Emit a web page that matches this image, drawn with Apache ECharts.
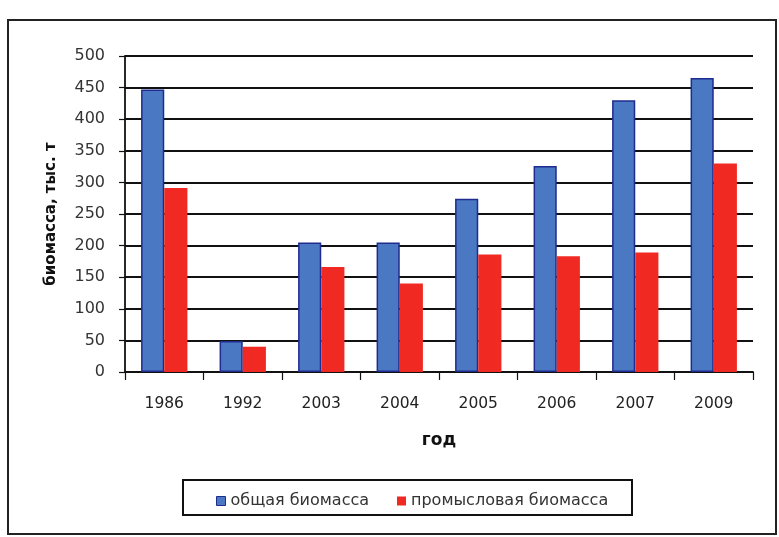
<!DOCTYPE html>
<html>
<head>
<meta charset="utf-8">
<script src="https://cdn.jsdelivr.net/npm/echarts@6/dist/echarts.min.js"></script>
<style>
  html, body { margin: 0; padding: 0; background: #fff; }
  #main { width: 779px; height: 537px; }
</style>
</head>
<body>
<div id="main"></div>
<script>
var years = ['1986', '1992', '2003', '2004', '2005', '2006', '2007', '2009'];
var totalBiomass = [447, 49, 205, 205, 274, 326, 430, 465];
var commercialBiomass = [291, 40, 166, 140, 186, 183, 189, 330];
var yTicks = [0, 50, 100, 150, 200, 250, 300, 350, 400, 450, 500];

var myChart = echarts.init(document.getElementById('main'));

var option = {
    backgroundColor: '#fff',
    animation: false,
    grid: {
        left: 125,
        right: 26,
        top: 56,
        bottom: 165
    },
    graphic: [
        {   // outer frame
            type: 'rect',
            shape: {x: 8, y: 20, width: 768, height: 514},
            style: {fill: 'none', stroke: '#222', lineWidth: 2},
            z: -1
        },
        {   // legend box
            type: 'rect',
            shape: {x: 183, y: 480, width: 449, height: 35},
            style: {fill: '#fff', stroke: '#111', lineWidth: 2},
            z: 0
        }
    ],
    legend: [
        {
            data: ['общая биомасса'],
            left: 211,
            top: 488,
            itemWidth: 9,
            itemHeight: 9,
            itemGap: 4,
            icon: 'rect',
            itemStyle: {borderColor: '#1f2b8f', borderWidth: 1},
            textStyle: {fontFamily: 'DejaVu Sans', fontSize: 16, color: '#333'},
            z: 5
        },
        {
            data: ['промысловая биомасса'],
            left: 392,
            top: 488,
            itemWidth: 9,
            itemHeight: 9,
            itemGap: 4,
            icon: 'rect',
            textStyle: {fontFamily: 'DejaVu Sans', fontSize: 16, color: '#333'},
            z: 5
        }
    ],
    xAxis: {
        type: 'category',
        data: years,
        name: 'год',
        nameLocation: 'middle',
        nameGap: 60,
        nameTextStyle: {fontFamily: 'DejaVu Sans', fontWeight: 'bold', fontSize: 17, color: '#111'},
        axisLine: {lineStyle: {color: '#111', width: 1.8}},
        axisTick: {show: true, length: 8, lineStyle: {color: '#111', width: 1.2}},
        axisLabel: {fontFamily: 'DejaVu Sans', fontSize: 15.5, color: '#222', margin: 24}
    },
    yAxis: {
        type: 'value',
        min: 0,
        max: 500,
        interval: 50,
        name: 'биомасса, тыс. т',
        nameLocation: 'middle',
        nameRotate: 90,
        nameGap: 66,
        nameTextStyle: {fontFamily: 'DejaVu Sans', fontWeight: 'bold', fontSize: 15, color: '#111'},
        axisLine: {show: true, lineStyle: {color: '#111', width: 1.8}},
        axisTick: {show: true, length: 6, lineStyle: {color: '#111', width: 1.2}},
        axisLabel: {
            fontFamily: 'DejaVu Sans', fontSize: 16, color: '#333', margin: 20,
            formatter: function (v) { return yTicks.indexOf(v) >= 0 ? String(v) : ''; }
        },
        splitLine: {show: true, lineStyle: {color: '#111', width: 1.8}}
    },
    series: [
        {
            name: 'общая биомасса',
            type: 'bar',
            data: totalBiomass,
            barGap: '0%',
            barCategoryGap: '41%',
            itemStyle: {color: '#4a78c2', borderColor: '#1f2b8f', borderWidth: 1.5},
            z: 3
        },
        {
            name: 'промысловая биомасса',
            type: 'bar',
            data: commercialBiomass,
            barGap: '0%',
            barCategoryGap: '41%',
            itemStyle: {color: '#f02a23'},
            z: 3
        }
    ]
};

myChart.setOption(option);
</script>
</body>
</html>
